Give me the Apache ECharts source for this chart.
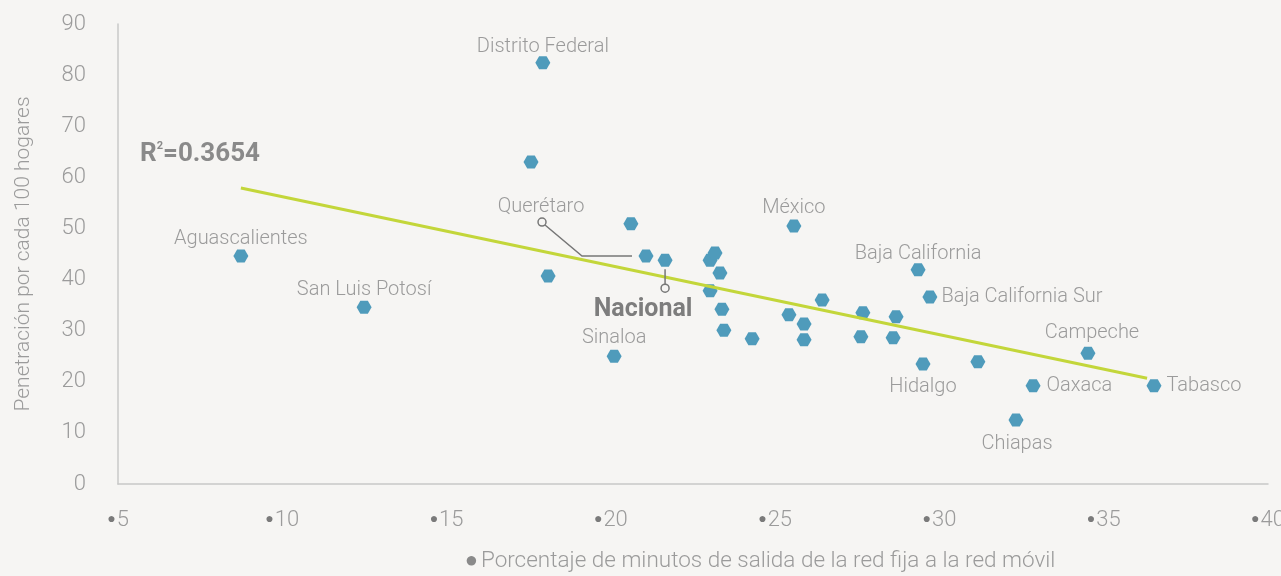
<!DOCTYPE html>
<html>
<head>
<meta charset="utf-8">
<script src="https://cdn.jsdelivr.net/npm/echarts@6/dist/echarts.min.js"></script>
<style>
  html, body { margin: 0; padding: 0; background: #f6f5f3; }
  #chart { width: 1281px; height: 576px; }
</style>
</head>
<body>
<div id="chart"></div>
<script>
// estados: minutos salida red fija -> móvil vs penetración
var stateNames = [
  "Aguascalientes", "San Luis Potosí", "Distrito Federal", "", "", "",
  "Querétaro", "Sinaloa", "", "", "", "", "", "", "",
  "México", "", "", "", "", "", "", "", "",
  "Baja California", "Baja California Sur", "Hidalgo", "", "Oaxaca",
  "Chiapas", "Campeche", "Tabasco"
];
var minutosSalida = [
  8.74, 12.49, 17.93, 17.57, 18.09, 20.61,
  21.07, 20.10, 23.02, 23.17, 23.32, 23.02, 23.38, 23.44, 24.30,
  25.57, 26.43, 25.42, 25.88, 25.88, 27.67, 27.61, 28.68, 28.59,
  29.35, 29.71, 29.50, 31.17, 32.85,
  32.33, 34.52, 36.53
];
var penetracion = [
  44.6, 34.6, 82.4, 63.0, 40.7, 50.9,
  44.6, 25.0, 43.8, 45.2, 41.3, 37.8, 34.2, 30.1, 28.4,
  50.5, 36.0, 33.1, 31.3, 28.2, 33.5, 28.8, 32.7, 28.6,
  41.9, 36.6, 23.5, 23.9, 19.2,
  12.5, 25.6, 19.2
];
var nacional = [21.65, 43.8];
var tendenciaX = [8.74, 36.32];
var tendenciaY = [57.9, 20.7];
var xTicks = [5, 10, 15, 20, 25, 30, 35, 40];
var yTicks = [0, 10, 20, 30, 40, 50, 60, 70, 80, 90];
var r2Text = "0.3654";

var hexPath = "path://M0,6 L3.5,0 L10.5,0 L14,6 L10.5,12 L3.5,12 Z";
var blue = "#4f9bbb";
var labelGray = "#9b9b9b";
var font = "Roboto";

// donde va cada etiqueta
var labelPos = {
  "Aguascalientes": { position: "inside", offset: [0, -17] },
  "San Luis Potosí": { position: "inside", offset: [0, -17] },
  "Distrito Federal": { position: "inside", offset: [0, -16] },
  "Querétaro": { position: "inside", offset: [-105, -49] },
  "Sinaloa": { position: "inside", offset: [0, -18] },
  "México": { position: "inside", offset: [0, -18] },
  "Baja California": { position: "inside", offset: [0, -16] },
  "Baja California Sur": { position: "right", distance: 4 },
  "Hidalgo": { position: "inside", offset: [0, 23] },
  "Oaxaca": { position: "right", distance: 6 },
  "Chiapas": { position: "inside", offset: [1, 24] },
  "Campeche": { position: "inside", offset: [4, -20] },
  "Tabasco": { position: "right", distance: 5 }
};

var points = [];
for (var i = 0; i < stateNames.length; i++) {
  var p = { name: stateNames[i], value: [minutosSalida[i], penetracion[i]] };
  if (stateNames[i] && labelPos[stateNames[i]]) {
    var lp = labelPos[stateNames[i]];
    p.label = {
      show: true,
      position: lp.position,
      offset: lp.offset || [0, 0],
      distance: lp.distance || 5
    };
  }
  points.push(p);
}

var chart = echarts.init(document.getElementById("chart"));
chart.setOption({
  backgroundColor: "#f6f5f3",
  animation: false,
  textStyle: { fontFamily: font },
  grid: { left: 118, right: 13, top: 24, bottom: 92, containLabel: false, outerBoundsMode: "none" },
  title: {
    left: 135,
    top: 136,
    text: "{r|R}{s|2}{r|=" + r2Text + "}",
    textStyle: {
      rich: {
        r: { fontSize: 26, fontWeight: "bold", color: "#8a8a8a", fontFamily: font },
        s: { fontSize: 11, color: "#8a8a8a", verticalAlign: "top", padding: [0, 0, 16, 0], fontFamily: font }
      }
    }
  },
  xAxis: {
    type: "value",
    min: xTicks[0],
    max: xTicks[xTicks.length - 1],
    interval: 5,
    name: "{d|●} {t|Porcentaje de minutos de salida de la red fija a la red móvil}",
    nameLocation: "middle",
    nameGap: 66,
    nameTextStyle: {
      padding: [0, 0, 0, 134],
      rich: {
        d: { color: "#8a8a8a", fontSize: 22 },
        t: { color: labelGray, fontSize: 22.5, fontWeight: 300, fontFamily: font }
      }
    },
    axisLine: { show: true, lineStyle: { color: "#c8c8c8", width: 1.5 } },
    axisTick: { show: false },
    splitLine: { show: false },
    axisLabel: {
      margin: 25,
      formatter: function (v) { return "{d|●}{v|" + v + "}"; },
      rich: {
        d: { color: "#7a7a7a", fontSize: 14, padding: [0, 1, 2, 0] },
        v: { color: labelGray, fontSize: 22, fontWeight: 300, fontFamily: font }
      }
    }
  },
  yAxis: {
    type: "value",
    min: yTicks[0],
    max: yTicks[yTicks.length - 1],
    interval: 10,
    name: "Penetración por cada 100 hogares",
    nameLocation: "middle",
    nameRotate: 90,
    nameGap: 84,
    nameTextStyle: { color: labelGray, fontSize: 21, fontWeight: 300 },
    axisLine: { show: true, lineStyle: { color: "#c8c8c8", width: 1.5 } },
    axisTick: { show: false },
    splitLine: { show: false },
    axisLabel: { margin: 32, color: labelGray, fontSize: 22, fontWeight: 300 }
  },
  series: [
    {
      name: "Estados",
      type: "scatter",
      symbol: hexPath,
      symbolSize: [15, 13],
      itemStyle: { color: blue, opacity: 1 },
      label: { formatter: "{b}", color: labelGray, fontSize: 20, fontWeight: 300, fontFamily: font },
      data: points,
      z: 2
    },
    {
      name: "Nacional",
      type: "scatter",
      symbol: hexPath,
      symbolSize: [15, 13],
      itemStyle: { color: blue, opacity: 1 },
      label: {
        show: true,
        position: "inside",
        offset: [-22, 50],
        formatter: "Nacional",
        color: "#7d7d7d",
        fontSize: 25,
        fontWeight: "bold",
        fontFamily: font
      },
      data: [nacional],
      z: 2
    },
    {
      name: "Tendencia",
      type: "line",
      symbol: "none",
      silent: true,
      lineStyle: { color: "#c3d63a", width: 3 },
      data: [[tendenciaX[0], tendenciaY[0]], [tendenciaX[1], tendenciaY[1]]],
      z: 3
    }
  ]
});

// líneas guía de Querétaro y Nacional
var q = chart.convertToPixel({ seriesIndex: 0 }, [minutosSalida[6], penetracion[6]]);
var n = chart.convertToPixel({ seriesIndex: 1 }, nacional);
var guide = { stroke: "#777", lineWidth: 1.5, fill: null };
chart.setOption({
  graphic: [
    { type: "polyline", shape: { points: [[q[0] - 14, q[1]], [q[0] - 64, q[1]], [q[0] - 101, q[1] - 31]] }, style: guide, z: 5 },
    { type: "circle", shape: { cx: q[0] - 104, cy: q[1] - 34, r: 4 }, style: { stroke: "#777", lineWidth: 1.5, fill: "#f6f5f3" }, z: 5 },
    { type: "line", shape: { x1: n[0], y1: n[1] + 9, x2: n[0], y2: n[1] + 24 }, style: guide, z: 5 },
    { type: "circle", shape: { cx: n[0], cy: n[1] + 28, r: 4 }, style: { stroke: "#777", lineWidth: 1.5, fill: "#f6f5f3" }, z: 5 }
  ]
});
</script>
</body>
</html>
